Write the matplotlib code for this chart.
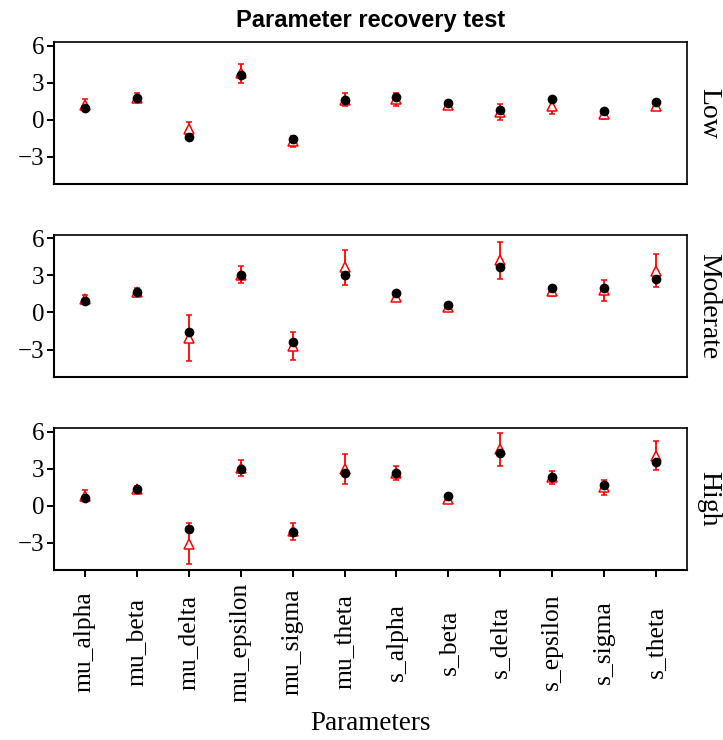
import matplotlib
matplotlib.use("Agg")
import matplotlib.pyplot as plt
import numpy as np

params = ["mu_alpha", "mu_beta", "mu_delta", "mu_epsilon", "mu_sigma", "mu_theta",
          "s_alpha", "s_beta", "s_delta", "s_epsilon", "s_sigma", "s_theta"]
levels = ["Low", "Moderate", "High"]

# true generating values (black dots)
true_low = [1.00, 1.82, -1.41, 3.67, -1.55, 1.60, 1.86, 1.41, 0.79, 1.68, 0.76, 1.49]
true_mod = [0.90, 1.69, -1.56, 3.00, -2.37, 3.00, 1.60, 0.62, 3.68, 2.01, 1.99, 2.72]
true_high = [0.63, 1.37, -1.85, 3.00, -2.13, 2.70, 2.68, 0.77, 4.29, 2.37, 1.69, 3.58]

# recovered estimates (red triangles) and their error half-widths
est_low = [1.25, 1.82, -0.70, 3.78, -1.74, 1.62, 1.66, 1.20, 0.65, 1.10, 0.45, 1.15]
err_low = [0.45, 0.40, 0.50, 0.79, 0.44, 0.53, 0.52, 0.28, 0.65, 0.62, 0.40, 0.35]
est_mod = [1.10, 1.68, -2.07, 3.05, -2.71, 3.67, 1.25, 0.43, 4.22, 1.75, 1.80, 3.39]
err_mod = [0.30, 0.33, 1.88, 0.68, 1.10, 1.43, 0.33, 0.20, 1.48, 0.38, 0.87, 1.32]
est_high = [0.81, 1.34, -3.06, 3.09, -2.07, 3.02, 2.68, 0.55, 4.61, 2.31, 1.51, 4.08]
err_high = [0.45, 0.28, 1.64, 0.66, 0.71, 1.21, 0.60, 0.22, 1.34, 0.55, 0.61, 1.19]

true_vals = [true_low, true_mod, true_high]
est_vals = [est_low, est_mod, est_high]
err_vals = [err_low, err_mod, err_high]

serif = ["Liberation Serif", "DejaVu Serif"]
sans = ["Liberation Sans", "DejaVu Sans"]

W, H = 723, 740
fig = plt.figure(figsize=(W / 100, H / 100), dpi=100)

left, right = 53.7, 687.3
panels = [(42.3, 184.0), (234.7, 376.7), (428.3, 570.0)]

x = np.arange(len(params))
for i, (top, bot) in enumerate(panels):
    ax = fig.add_axes([left / W, 1 - bot / H, (right - left) / W, (bot - top) / H])
    ax.errorbar(x, est_vals[i], yerr=err_vals[i], fmt="^", color="red",
                mfc="white", mec="red", ms=7.5, mew=1.1, elinewidth=1.3,
                capsize=2.0, capthick=1.3, zorder=2)
    ax.plot(x, true_vals[i], "o", color="black", ms=7.0, mew=0, zorder=3)
    ax.set_xlim(-0.6, len(params) - 0.4)
    ax.set_ylim(-5.2, 6.3)
    ax.set_yticks([-3, 0, 3, 6])
    ax.set_yticklabels(["\u22123", "0", "3", "6"], fontfamily=serif, fontsize=18)
    ax.set_xticks(x)
    ax.tick_params(axis="x", labelbottom=False)
    if i < 2:
        ax.tick_params(axis="x", length=0)
    else:
        ax.tick_params(axis="x", length=5, width=1.4)
        # parameter names, centred vertically below the bottom panel
        y_lab = (bot - 642.0) / (bot - top)
        for xi, name in zip(x, params):
            ax.text(xi, y_lab, name, transform=ax.get_xaxis_transform(),
                    rotation=90, ha="center", va="center",
                    fontfamily=serif, fontsize=18.4)
    ax.tick_params(axis="y", length=5, width=1.4, pad=1.5)
    for s in ax.spines.values():
        s.set_linewidth(1.2)
    ax.spines["left"].set_linewidth(1.5)
    ax.spines["bottom"].set_linewidth(1.5)
    fig.text(708.5 / W, 1 - (top + bot) / 2 / H, levels[i], rotation=-90,
             ha="center", va="center", fontfamily=serif, fontsize=20)

fig.text(370.5 / W, 1 - 26.7 / H, "Parameter recovery test", ha="center",
         va="baseline", fontfamily=sans, fontweight="bold", fontsize=17)
fig.text(370.5 / W, 1 - 730 / H, "Parameters", ha="center", va="baseline",
         fontfamily=serif, fontsize=19.5)

fig.savefig("out.png", dpi=100)
